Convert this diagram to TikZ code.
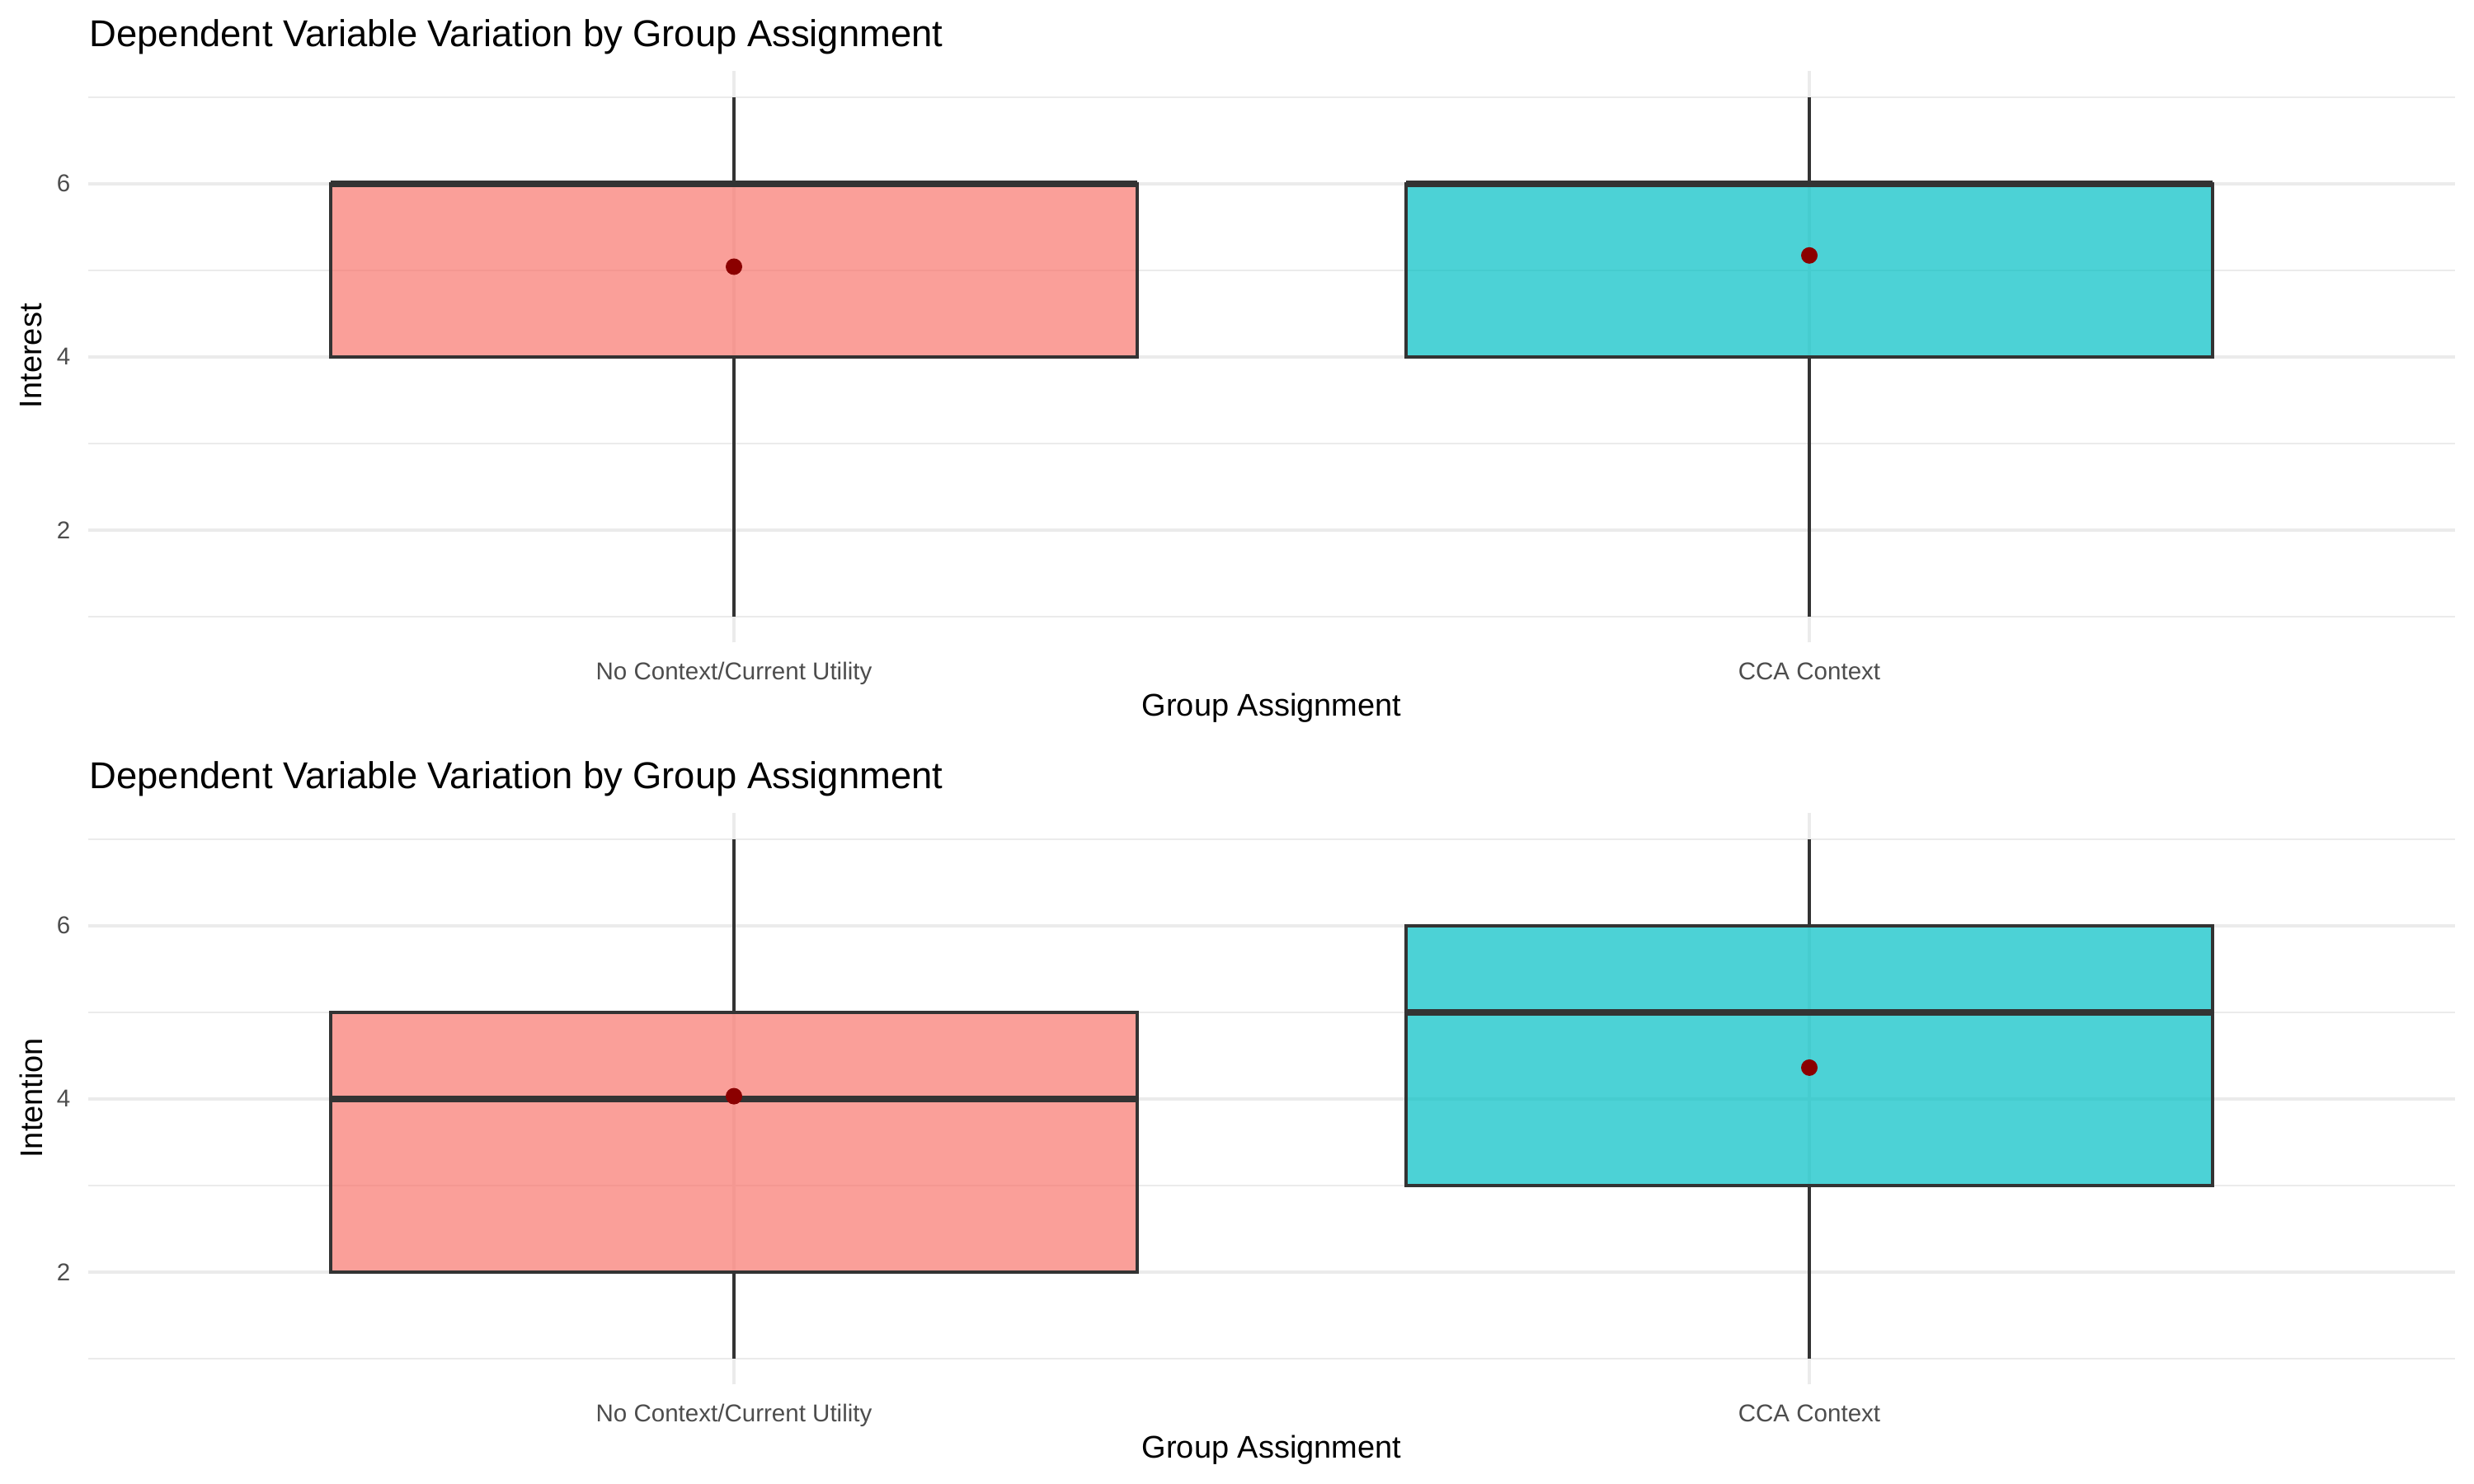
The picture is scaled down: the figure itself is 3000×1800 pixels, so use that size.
\documentclass[tikz,border=0pt]{standalone}
\usepackage{fontspec}
\setmainfont{Liberation Sans}
\usetikzlibrary{calc}

\definecolor{gridgrey}{HTML}{EBEBEB}
\definecolor{boxgrey}{HTML}{333333}
\definecolor{ticktext}{HTML}{4D4D4D}
\definecolor{groupred}{HTML}{F8766D}
\definecolor{groupcyan}{HTML}{00BFC4}
\definecolor{meanred}{HTML}{8B0000}

\tikzset{
	gridmajor/.style={gridgrey, line width=1.1pt},
	gridminor/.style={gridgrey, line width=0.55pt},
	boxline/.style={boxgrey, line width=1.1pt, fill opacity=0.7},
	medianline/.style={boxgrey, line width=2.2pt},
	whiskerline/.style={boxgrey, line width=1.1pt},
	meandot/.style={fill=meanred},
	titletext/.style={font=\fontsize{12.9}{15}\selectfont, inner sep=0pt},
	axistitle/.style={font=\fontsize{10.8}{12}\selectfont, inner sep=0pt},
	ticklabel/.style={font=\fontsize{8.4}{10}\selectfont, text=ticktext, inner sep=0pt}
}

\newcommand{\drawPanelFrame}[2]{
	\foreach \v in {1,3,5,7} \draw[gridminor] (107,\v) -- (2977,\v);
	\foreach \v in {2,4,6} {
		\draw[gridmajor] (107,\v) -- (2977,\v);
		\node[ticklabel, anchor=east] (#1_y\v) at (86,\v) {\v};
	}
	\draw[gridmajor] (890,0.7) -- (890,7.3);
	\draw[gridmajor] (2194,0.7) -- (2194,7.3);
	\node[titletext, anchor=base west] (#1_title) at (108,7.581) {Dependent Variable Variation by Group Assignment};
	\node[ticklabel, anchor=base] (#1_tickA) at (890,0.267) {No Context/Current Utility};
	\node[ticklabel, anchor=base] (#1_tickB) at (2194,0.267) {CCA Context};
	\node[axistitle, anchor=base] (#1_xlab) at (1542,-0.152) {Group Assignment};
	\node[axistitle, rotate=90] (#1_ylab) at (38,4.01) {#2};
}
\newcommand{\drawWhiskers}[4]{
	\draw[whiskerline] let
		\p1 = (#1), \p2 = (#2),
		\p3 = (0,#3), \p4 = (0,#4)
		in
		({(\x1 + \x2)*1/2},\y1) -- ({(\x1 + \x2)*1/2},\y3)
		({(\x1 + \x2)*1/2},\y2) -- ({(\x1 + \x2)*1/2},\y4);
}
\newcommand{\drawBox}[4]{
	\filldraw[boxline, fill=#3] (#1) rectangle (#2);
	\draw[medianline] let \p1 = (#1), \p2 = (#2), \p3 = (0,#4) in (\x1,\y3) -- (\x2,\y3);
}
\newcommand{\drawMean}[3]{
	\fill[meandot] let \p1 = (#1), \p2 = (#2), \p3 = (0,#3) in ({(\x1 + \x2)*1/2},\y3) circle (0.1cm);
}

\begin{document}
\begin{tikzpicture}[x=0.01cm, y=-0.01cm]
		\useasboundingbox (0,0) rectangle (3000,1800);

		% Interest
		\begin{scope}[shift={(0,853)}, y=1.05cm]
		\drawPanelFrame{IN}{Interest}
		\coordinate (IN1_L) at (401,4);
		\coordinate (IN1_R) at (1379,6);
		\coordinate (IN2_L) at (1705,4);
		\coordinate (IN2_R) at (2683,6);

		\drawWhiskers{IN1_L}{IN1_R}{1}{7}
		\drawWhiskers{IN2_L}{IN2_R}{1}{7}
		\drawBox{IN1_L}{IN1_R}{groupred}{6}
		\drawBox{IN2_L}{IN2_R}{groupcyan}{6}
		\drawMean{IN1_L}{IN1_R}{5.04}
		\drawMean{IN2_L}{IN2_R}{5.17}
		\end{scope}

		% Intention
		\begin{scope}[shift={(0,1753)}, y=1.05cm]
		\drawPanelFrame{IT}{Intention}
		\coordinate (IT1_L) at (401,2);
		\coordinate (IT1_R) at (1379,5);
		\coordinate (IT2_L) at (1705,3);
		\coordinate (IT2_R) at (2683,6);

		\drawWhiskers{IT1_L}{IT1_R}{1}{7}
		\drawWhiskers{IT2_L}{IT2_R}{1}{7}
		\drawBox{IT1_L}{IT1_R}{groupred}{4}
		\drawBox{IT2_L}{IT2_R}{groupcyan}{5}
		\drawMean{IT1_L}{IT1_R}{4.03}
		\drawMean{IT2_L}{IT2_R}{4.36}
		\end{scope}

	\end{tikzpicture}
\end{document}
